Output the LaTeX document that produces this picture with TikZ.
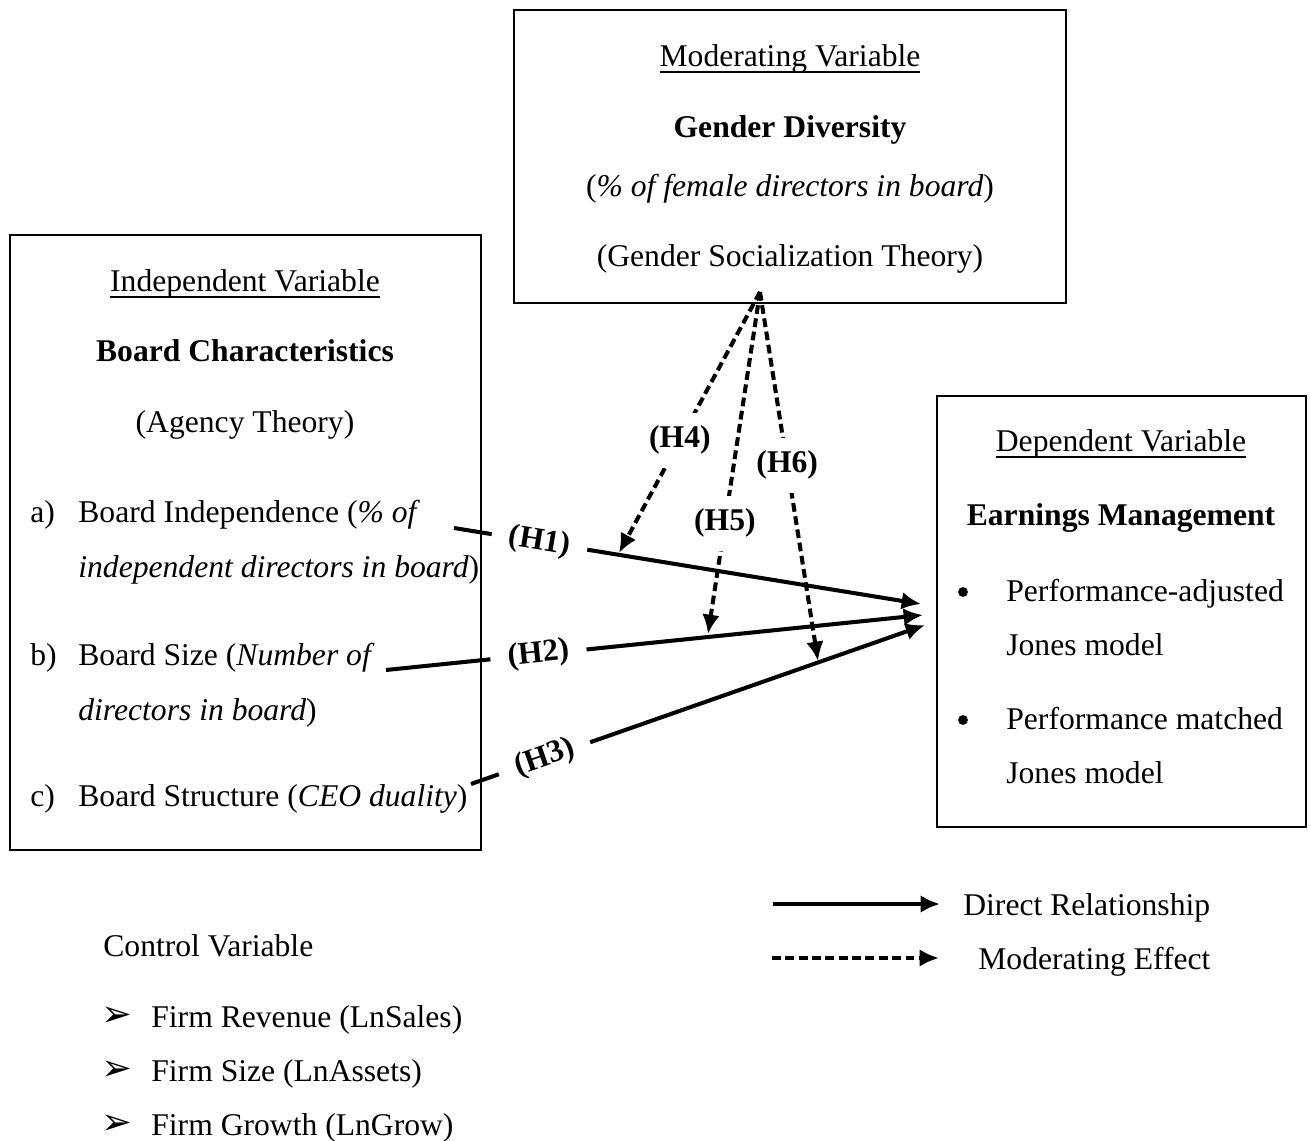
\documentclass[tikz,border=0pt]{standalone}
\usepackage{fontspec}
\setmainfont{Liberation Serif}
\newfontfamily\dingfont{DejaVu Sans}
\usetikzlibrary{arrows.meta}
\newcommand{\ulvar}[1]{\sbox0{#1}\rlap{\vrule width\wd0 height -2.3pt depth 3.4pt}\usebox0}

\begin{document}
\begin{tikzpicture}[x=0.02cm,y=-0.02cm,
    every node/.style={font=\fontsize{18}{22}\selectfont, inner sep=0pt},
    varbox/.style={draw, line width=0.6pt},
    txt/.style={anchor=base},
    item/.style={anchor=base west},
    dot/.style={circle, fill, minimum size=5.6pt},
    direct/.style={line width=2.3pt, -{Latex[length=11pt,width=10pt]}},
    moder/.style={direct, dash pattern=on 5pt off 2.6pt},
    hlab/.style={fill=white, sloped, inner xsep=10pt, inner ysep=1pt,
                 font=\fontsize{18}{22}\selectfont\bfseries},
    mlab/.style={fill=white, inner xsep=3pt, inner ysep=7.5pt,
                 font=\fontsize{18}{22}\selectfont\bfseries}]
    \useasboundingbox (0,0) rectangle (1311,1141);

    % the three boxes
    \draw[varbox] (514,10) rectangle (1066,303);
    \draw[varbox] (10,235) rectangle (481,850);
    \draw[varbox] (937,396) rectangle (1306,827);

    % moderating variable
    \node[txt] (modhead) at (790,67) {\ulvar{Moderating Variable}};
    \node[txt] (modname) at (790,138) {\textbf{Gender Diversity}};
    \node[txt] (modmeas) at (790,197) {(\textit{\% of female directors in board})};
    \node[txt] (modtheo) at (790,267) {(Gender Socialization Theory)};

    % independent variable
    \node[txt] (indhead) at (245,292) {\ulvar{Independent Variable}};
    \node[txt] (indname) at (245,362) {\textbf{Board Characteristics}};
    \node[txt] (indtheo) at (245,433) {(Agency Theory)};
    \node[item] (inda) at (30,523) {a)};
    \node[item] (inda1) at (78,523) {Board Independence (\textit{\% of}};
    \node[item] (inda2) at (78,578) {\textit{independent directors in board})};
    \node[item] (indb) at (30,665) {b)};
    \node[item] (indb1) at (78,665) {Board Size (\textit{Number of}};
    \node[item] (indb2) at (78,720) {\textit{directors in board})};
    \node[item] (indc) at (30,806) {c)};
    \node[item] (indc1) at (78,806) {Board Structure (\textit{CEO duality})};

    % dependent variable
    \node[txt] (dephead) at (1121,452) {\ulvar{Dependent Variable}};
    \node[txt] (depname) at (1121,526) {\textbf{Earnings Management}};
    \node[dot] (dep1b) at (963,592) {};
    \node[item] (dep1) at (1006,602) {Performance-adjusted};
    \node[item] (dep1x) at (1006,655) {Jones model};
    \node[dot] (dep2b) at (963,720) {};
    \node[item] (dep2) at (1006,729) {Performance matched};
    \node[item] (dep2x) at (1006,783) {Jones model};

    % control variable
    \node[item] (ctlhead) at (103,956) {Control Variable};
    \foreach \yy/\nm/\lab in {1027/ctl1/Firm Revenue (LnSales),
                              1081/ctl2/Firm Size (LnAssets),
                              1135/ctl3/Firm Growth (LnGrow)} {
        \node[item] (\nm b) at (101,\yy-1) {\dingfont\fontsize{21}{24}\selectfont ➢};
        \node[item] (\nm) at (151,\yy) {\lab};
    }

    % hypotheses
    \coordinate (apex) at (760,292);
    \coordinate (h1s) at (454,528);
    \coordinate (h1e) at (921,604);
    \coordinate (h2s) at (386,670);
    \coordinate (h2e) at (923,615);
    \coordinate (h3s) at (471,784);
    \coordinate (h3e) at (925,625);
    \coordinate (h4e) at (619,553);
    \coordinate (h5e) at (708,634);
    \coordinate (h6e) at (818,661);

    \draw[direct] (h1s) -- node[hlab, pos=0.183] (h1) {(H1)} (h1e);
    \draw[direct] (h2s) -- node[hlab, pos=0.284] (h2) {(H2)} (h2e);
    \draw[direct] (h3s) -- node[hlab, pos=0.162] (h3) {(H3)} (h3e);
    \draw[moder] (apex) -- node[mlab, pos=0.568] (h4) {(H4)} (h4e);
    \draw[moder] (apex) -- node[mlab, pos=0.676] (h5) {(H5)} (h5e);
    \draw[moder] (apex) -- node[mlab, pos=0.469] (h6) {(H6)} (h6e);

    % legend
    \coordinate (lgd1s) at (773,904);
    \coordinate (lgd1e) at (940,904);
    \coordinate (lgd2s) at (772,958);
    \coordinate (lgd2e) at (939,958);
    \draw[direct] (lgd1s) -- (lgd1e);
    \draw[moder] (lgd2s) -- (lgd2e);
    \node[item] (lgd1) at (963,915) {Direct Relationship};
    \node[item] (lgd2) at (978,969) {Moderating Effect};
\end{tikzpicture}
\end{document}
